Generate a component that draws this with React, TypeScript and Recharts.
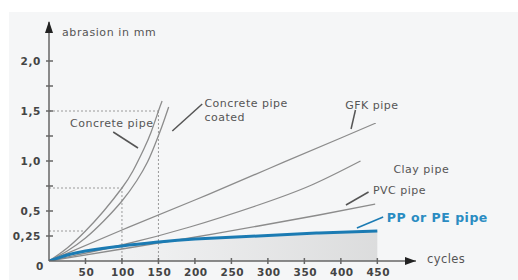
import React from 'react';
import {
  ComposedChart,
  Line,
  Area,
  XAxis,
  YAxis,
  ReferenceLine,
  ReferenceDot,
} from 'recharts';

// abrasion (mm) over load cycles
const concreteCycles = [0, 25, 50, 75, 100, 115, 130, 140, 150, 155];
const concreteValues = [0, 0.13, 0.3, 0.5, 0.73, 0.9, 1.12, 1.29, 1.5, 1.6];
const coatedCycles = [0, 25, 50, 75, 100, 120, 135, 145, 155, 164];
const coatedValues = [0, 0.1, 0.23, 0.4, 0.6, 0.8, 0.99, 1.16, 1.35, 1.54];
const gfkCycles = [0, 100, 200, 300, 400, 448];
const gfkValues = [0, 0.31, 0.61, 0.92, 1.23, 1.38];
const clayCycles = [0, 100, 193, 287, 360, 427];
const clayValues = [0, 0.16, 0.34, 0.56, 0.76, 1.0];
const pvcCycles = [0, 100, 193, 287, 370, 447];
const pvcValues = [0, 0.12, 0.23, 0.35, 0.46, 0.57];
const ppCycles = [0, 25, 50, 100, 150, 200, 287, 370, 450];
const ppValues = [0, 0.06, 0.1, 0.15, 0.19, 0.22, 0.25, 0.28, 0.3];

const xTicks = [50, 100, 150, 200, 250, 300, 350, 400, 450];
const yTicks = [0, 0.25, 0.5, 0.75, 1, 1.25, 1.5, 1.75, 2];
const yLabels = ['0', '0,25', '0,5', '', '1,0', '', '1,5', '', '2,0'];

const toPoints = (xs: number[], ys: number[]) => xs.map((x, i) => ({ x, y: ys[i] }));

const concrete = toPoints(concreteCycles, concreteValues);
const coated = toPoints(coatedCycles, coatedValues);
const gfk = toPoints(gfkCycles, gfkValues);
const clay = toPoints(clayCycles, clayValues);
const pvc = toPoints(pvcCycles, pvcValues);
const pp = toPoints(ppCycles, ppValues);

const font = '"DejaVu Sans", sans-serif';
const grey = '#8c8c8c';
const blue = '#1b7bb3';
const dash = { stroke: '#9a9a9a', strokeDasharray: '2 2', strokeWidth: 1 };

const tickText = { fontSize: 10.5, fontWeight: 'bold', fill: '#444', fontFamily: font, letterSpacing: 0.6 };

const YTick = (props: any) => {
  const { x, y, payload } = props;
  const label = yLabels[yTicks.indexOf(payload.value)];
  if (payload.value === 0) {
    return (
      <text x={x - 9} y={y + 5} textAnchor="middle" dominantBaseline="central" {...tickText}>
        {label}
      </text>
    );
  }
  return (
    <g>
      <line x1={x - 3} x2={x + 4} y1={y} y2={y} stroke="#666" strokeWidth={1.5} />
      {label && (
        <text x={x - 8} y={y} textAnchor="end" dominantBaseline="central" {...tickText}>
          {label}
        </text>
      )}
    </g>
  );
};

const XTick = (props: any) => {
  const { x, y, payload } = props;
  return (
    <g>
      <line x1={x} x2={x} y1={y - 3} y2={y + 3} stroke="#666" strokeWidth={1.5} />
      <text x={x + 1} y={y + 11} textAnchor="middle" dominantBaseline="central" {...tickText}>
        {payload.value}
      </text>
    </g>
  );
};

const YArrow = (props: any) => {
  const { x, y, width } = props.viewBox;
  const ax = x + width;
  return (
    <g>
      <polygon points={`${ax},${y - 1} ${ax - 4},${y + 11} ${ax + 4},${y + 11}`} fill="#222" />
      <text x={ax + 13} y={y + 10} fontSize={11} letterSpacing={0.6} fill="#555" fontFamily={font} dominantBaseline="central">
        abrasion in mm
      </text>
    </g>
  );
};

const XArrow = (props: any) => {
  const { x, y, width } = props.viewBox;
  const ax = x + width;
  return (
    <g>
      <polygon points={`${ax},${y} ${ax - 11},${y - 4} ${ax - 11},${y + 4}`} fill="#222" />
      <text x={ax + 11} y={y - 2} fontSize={11.5} letterSpacing={0.4} fill="#555" fontFamily={font} dominantBaseline="central">
        cycles
      </text>
    </g>
  );
};

const note = (text: string, color = '#555', size = 11, weight = 'normal') => (props: any) => (
  <text x={props.viewBox.x} y={props.viewBox.y} fontSize={size} fontWeight={weight} letterSpacing={0.5} fill={color} fontFamily={font} dominantBaseline="central">
    {text}
  </text>
);

const noteMid = (text: string) => (props: any) => (
  <text x={props.viewBox.x} y={props.viewBox.y} fontSize={11} letterSpacing={0.5} fill="#555" fontFamily={font} textAnchor="middle" dominantBaseline="central">
    {text}
  </text>
);

const leader = { stroke: '#555', strokeWidth: 1.5 };

const App = () => (
  <div style={{ position: 'absolute', left: 0, top: 0, width: 518, height: 280, background: '#fff' }}>
    <div style={{ position: 'absolute', left: 9, top: 12, right: 0, bottom: 0, background: '#f5f6f7' }} />
    <div style={{ position: 'absolute', left: 0, top: 0 }}>
      <ComposedChart width={518} height={280} margin={{ top: 22, right: 102, bottom: 0, left: 0 }}>
        <defs>
          <linearGradient id="ppFill" x1="0" y1="0" x2="1" y2="0">
            <stop offset="0" stopColor="#a8a8a8" stopOpacity={0} />
            <stop offset="0.35" stopColor="#a8a8a8" stopOpacity={0.15} />
            <stop offset="1" stopColor="#a8a8a8" stopOpacity={0.55} />
          </linearGradient>
        </defs>
        <XAxis
          type="number"
          dataKey="x"
          domain={[0, 503]}
          ticks={xTicks}
          height={19}
          tickSize={0}
          tickMargin={0}
          tickLine={false}
          tick={<XTick />}
          axisLine={{ stroke: '#666', strokeWidth: 1.5 }}
          label={<XArrow />}
          allowDataOverflow
        />
        <YAxis
          type="number"
          dataKey="y"
          domain={[0, 2.39]}
          ticks={yTicks}
          width={49}
          tickSize={0}
          tickMargin={0}
          tickLine={false}
          tick={<YTick />}
          axisLine={{ stroke: '#666', strokeWidth: 1.5 }}
          label={<YArrow />}
          allowDataOverflow
        />

        <ReferenceLine segment={[{ x: 0, y: 1.5 }, { x: 150, y: 1.5 }]} {...dash} />
        <ReferenceLine segment={[{ x: 150, y: 0 }, { x: 150, y: 1.5 }]} {...dash} />
        <ReferenceLine segment={[{ x: 0, y: 0.73 }, { x: 100, y: 0.73 }]} {...dash} />
        <ReferenceLine segment={[{ x: 100, y: 0 }, { x: 100, y: 0.73 }]} {...dash} />
        <ReferenceLine segment={[{ x: 0, y: 0.3 }, { x: 50, y: 0.3 }]} {...dash} />

        <Area data={pp} dataKey="y" type="natural" stroke="none" fill="url(#ppFill)" isAnimationActive={false} />

        <Line data={concrete} dataKey="y" type="natural" stroke={grey} strokeWidth={1.3} dot={false} isAnimationActive={false} />
        <Line data={coated} dataKey="y" type="natural" stroke={grey} strokeWidth={1.3} dot={false} isAnimationActive={false} />
        <Line data={gfk} dataKey="y" type="natural" stroke={grey} strokeWidth={1.3} dot={false} isAnimationActive={false} />
        <Line data={clay} dataKey="y" type="natural" stroke={grey} strokeWidth={1.3} dot={false} isAnimationActive={false} />
        <Line data={pvc} dataKey="y" type="natural" stroke={grey} strokeWidth={1.3} dot={false} isAnimationActive={false} />
        <Line data={pp} dataKey="y" type="natural" stroke={blue} strokeWidth={3} dot={false} isAnimationActive={false} />

        <ReferenceLine segment={[{ x: 88, y: 1.29 }, { x: 122, y: 1.13 }]} {...leader} />
        <ReferenceLine segment={[{ x: 169, y: 1.3 }, { x: 210, y: 1.57 }]} {...leader} />
        <ReferenceLine segment={[{ x: 420, y: 1.51 }, { x: 414, y: 1.32 }]} {...leader} />
        <ReferenceLine segment={[{ x: 438, y: 0.69 }, { x: 407, y: 0.56 }]} {...leader} />
        <ReferenceLine segment={[{ x: 458, y: 0.44 }, { x: 422, y: 0.33 }]} stroke={blue} strokeWidth={1.5} />

        <ReferenceDot x={86} y={1.38} r={0} label={noteMid('Concrete pipe')} />
        <ReferenceDot x={213} y={1.58} r={0} label={note('Concrete pipe')} />
        <ReferenceDot x={213} y={1.44} r={0} label={note('coated')} />
        <ReferenceDot x={406} y={1.56} r={0} label={note('GFK pipe')} />
        <ReferenceDot x={472} y={0.92} r={0} label={note('Clay pipe')} />
        <ReferenceDot x={444} y={0.71} r={0} label={note('PVC pipe')} />
        <ReferenceDot x={463} y={0.44} r={0} label={note('PP or PE pipe', '#2a8cc2', 12.5, 'bold')} />
      </ComposedChart>
    </div>
  </div>
);

export default App;
